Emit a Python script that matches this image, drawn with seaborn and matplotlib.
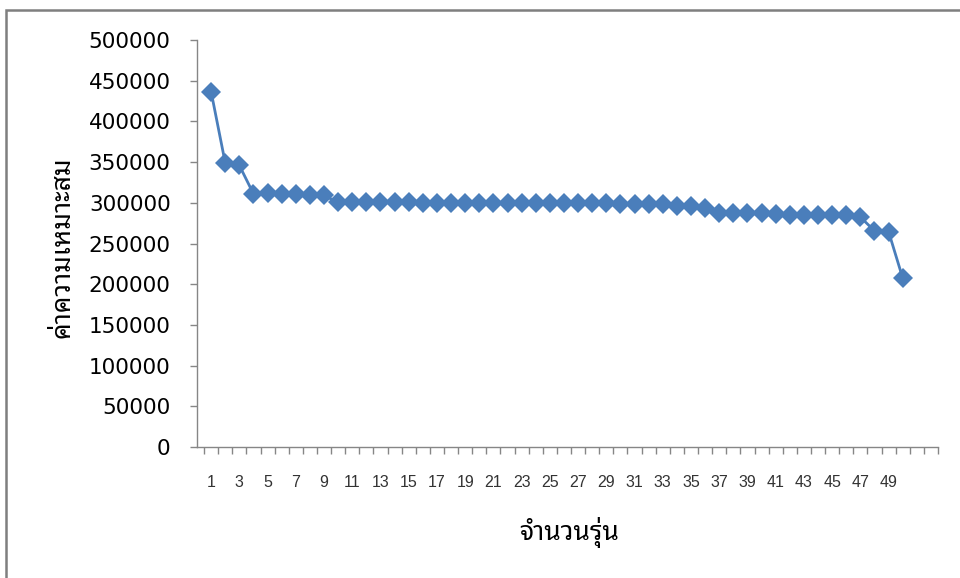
import matplotlib
matplotlib.use("Agg")
import matplotlib.pyplot as plt
from matplotlib.patches import Rectangle
import seaborn as sns
import pandas as pd

# Best fitness per generation
generations = list(range(1, 51))
fitness = [
    436500, 349000, 346000, 311000, 311500, 311000, 310500, 309500, 309000, 300500,
    300500, 300500, 300500, 300500, 300500, 299500, 299500, 299500, 299500, 299500,
    299500, 299500, 299500, 299500, 299500, 299500, 299500, 299500, 299500, 299000,
    298500, 298500, 298000, 296500, 296500, 293500, 287500, 287000, 287000, 287000,
    286000, 285500, 285000, 285000, 285000, 284500, 282500, 265500, 264500, 207500,
]
xtick_values = list(range(1, 50, 2))
xtick_labels = [str(v) for v in xtick_values]
y_ticks = list(range(0, 500001, 50000))
x_title = "จำนวนรุ่น"
y_title = "ค่าความเหมาะสม"

sns.set_theme(style="white")
plt.rcParams["font.family"] = ["DejaVu Sans"]

df = pd.DataFrame({"gen": generations, "fit": fitness})

W, H = 960, 578
fig = plt.figure(figsize=(W / 100, H / 100), dpi=100)
fig.patch.set_facecolor("white")

# outer frame
fig.patches.append(Rectangle((6 / W, -0.05), 1.2, 1 - 10 / H + 0.05, transform=fig.transFigure,
                             fill=False, edgecolor="#7f7f7f", lw=1.8, zorder=0))

ax = fig.add_axes([197 / W, 1 - 447 / H, (938 - 197) / W, (447 - 40) / H])
sns.lineplot(data=df, x="gen", y="fit", ax=ax, color="#4a7ebb", lw=2.0,
             marker="D", markersize=10, markeredgewidth=0, clip_on=False)

ax.set_xlim(0, 52.5)
ax.set_ylim(0, 500000)

for s in ["top", "right"]:
    ax.spines[s].set_visible(False)
for s in ["left", "bottom"]:
    ax.spines[s].set_color("#868686")
    ax.spines[s].set_linewidth(1.0)

ax.set_yticks(y_ticks)
ax.set_yticklabels([str(v) for v in y_ticks], fontsize=15.5, color="black")
ax.tick_params(axis="y", direction="out", length=5, width=1.0, color="#868686", pad=14, left=True)

# tick marks between categories, labels centred on categories
ax.set_xticks([i + 0.5 for i in range(0, 53)])
ax.set_xticklabels([])
ax.tick_params(axis="x", which="major", direction="out", length=5, width=1.0, color="#868686", bottom=True)
ax.set_xticks(xtick_values, minor=True)
ax.set_xticklabels(xtick_labels, minor=True, fontsize=11.5, color="#333333",
                   fontfamily="Liberation Sans")
ax.tick_params(axis="x", which="minor", length=0, pad=20)

ax.set_xlabel(x_title, fontsize=19, fontweight="bold", color="black",
              fontfamily=["Noto Sans Thai Looped", "DejaVu Sans"], va="center")
ax.xaxis.set_label_coords(0.502, -0.211)
ax.set_ylabel(y_title, fontsize=19, fontweight="bold", color="black",
              fontfamily=["Noto Sans Thai Looped", "DejaVu Sans"], va="center")
ax.yaxis.set_label_coords(-0.181, 0.491)

ax.grid(False)
fig.savefig("out.png", dpi=100)
